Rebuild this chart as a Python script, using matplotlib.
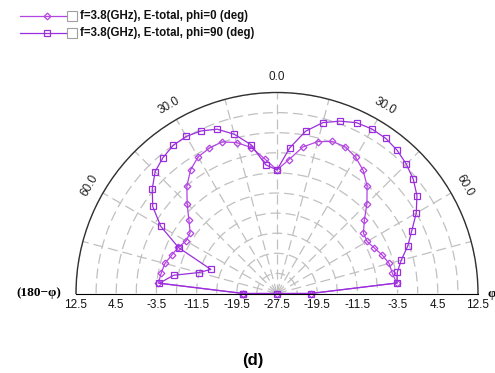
import numpy as np
import matplotlib
matplotlib.use('Agg')
import matplotlib.pyplot as plt
from matplotlib.lines import Line2D
from matplotlib.patches import Rectangle
from matplotlib.transforms import offset_copy

# theta cut, -90..90 deg in 5 deg steps
theta_deg = np.arange(-90, 91, 5)

# E-total (dB) at f=3.8 GHz, phi=0 cut
e_phi0 = [-20.8, -3.8, -4.1, -4.4, -5.2, -5.8, -6.6, -6.4, -4.6, -2.2,
          0.4, 2.5, 3.9, 4.4, 4.6, 3.6, 2.0, -0.7, -2.9, -0.8,
          2.1, 3.8, 4.7, 4.7, 3.8, 2.4, 0.4, -2.2, -4.8, -6.5,
          -6.8, -6.1, -5.2, -4.4, -4.2, -3.6, -20.8]

# E-total (dB) at f=3.8 GHz, phi=90 cut
e_phi90 = [-20.8, -4.0, -6.6, -11.4, -13.5, -5.9, -0.8, 2.7, 4.9, 6.8,
           7.8, 8.5, 8.6, 8.2, 7.3, 5.3, 2.6, -1.8, -2.9, 1.6,
           5.3, 7.7, 9.0, 10.0, 10.3, 10.2, 9.7, 8.9, 7.9, 6.5,
           4.5, 2.1, 0.2, -1.9, -3.2, -3.5, -20.8]

series_labels = ['f=3.8(GHz), E-total, phi=0 (deg)',
                 'f=3.8(GHz), E-total, phi=90 (deg)']

r_min, r_max = -27.5, 12.5
r_ticks = [12.5, 4.5, -3.5, -11.5, -19.5]
angle_ticks = [-60, -30, 0, 30, 60]

c_phi0 = '#B444E4'
c_phi90 = '#9A2EDC'
W, H = 495, 373

fig = plt.figure(figsize=(W / 100, H / 100), dpi=100)
plt.rcParams['font.family'] = ['Liberation Sans', 'DejaVu Sans']

# half polar plot, 0 deg at top; the half disc sits centred in a square box
cx, cy, R = 277, 293.5, 201
ax = fig.add_axes([(cx - R) / W, (H - cy - R / 2) / H, 2 * R / W, 2 * R / H],
                  projection='polar')
ax.set_theta_zero_location('N')
ax.set_theta_direction(-1)
ax.set_thetamin(-90)
ax.set_thetamax(90)
ax.set_rlim(r_min, r_max)
ax.patch.set_alpha(0)

ax.set_rticks(np.arange(-23.5, 12.6, 4))
ax.set_yticklabels([])
ax.set_xticks(np.deg2rad(np.arange(-90, 91, 15)))
ax.set_xticklabels([])
ax.grid(True, color='#c0c0c0', lw=0.9, ls=(0, (8, 4)))
ax.tick_params(length=0)
for s in ['start', 'end', 'inner']:
    ax.spines[s].set_visible(False)
ax.spines['polar'].set_color('#303030')
ax.spines['polar'].set_linewidth(1.0)

th = np.deg2rad(theta_deg)
# both cuts close through the centre of the plot
for vals, col, mk, ms in [(e_phi0, c_phi0, 'D', 3.4), (e_phi90, c_phi90, 's', 3.8)]:
    t = np.concatenate([th, [np.pi / 2, -np.pi / 2]])
    r = np.concatenate([vals, [r_min, vals[0]]])
    ax.plot(t, r, color=col, lw=0.9, marker=mk, ms=ms, mfc='none', mew=0.9,
            clip_on=False)

# angle labels along the outer arc
for a in angle_ticks:
    ax.text(np.deg2rad(a), 15.6, '%.1f' % abs(a), rotation=-a, rotation_mode='anchor',
            ha='center', va='center', fontsize=8.5, color='#202020')

# level labels under the baseline
below = offset_copy(ax.transData, fig=fig, x=0, y=-12, units='dots')
for v in r_ticks:
    for side in (-90, 90):
        ax.text(np.deg2rad(side), v, '%.1f' % v, transform=below, ha='center',
                va='center', fontsize=8.5, color='#101010')
ax.text(0, r_min, '%.1f' % r_min, transform=below, ha='center', va='center',
        fontsize=8.5, color='#101010')

fig.text(39 / W, 1 - 293 / H, '(180\u2212\u03c6)', ha='center', va='center',
         fontsize=9.5, fontweight='bold', family=['Liberation Serif', 'DejaVu Serif'])
fig.text(487 / W, 1 - 294 / H, '\u03c6', ha='left', va='center',
         fontsize=9.5, fontweight='bold', family=['Liberation Serif', 'DejaVu Serif'])

# legend rows
for i, (lab, col, mk, ms) in enumerate([(series_labels[0], c_phi0, 'D', 3.4),
                                        (series_labels[1], c_phi90, 's', 3.8)]):
    y = 1 - (15.5 + 17.2 * i) / H
    fig.add_artist(Line2D([20 / W, 66 / W], [y, y], color=col, lw=0.9,
                          transform=fig.transFigure))
    fig.add_artist(Line2D([47 / W], [y], color=col, marker=mk, ms=ms, mfc='none',
                          mew=0.9, transform=fig.transFigure))
    fig.add_artist(Rectangle((67 / W, y - 5 / H), 9.5 / W, 9.5 / H, fc='white',
                             ec='#a0a0a0', lw=0.8, transform=fig.transFigure))
    fig.text(80 / W, y, lab, ha='left', va='center', fontsize=8.3, fontweight='bold',
             color='#101010')

fig.text(253 / W, 1 - 360 / H, '(d)', ha='center', va='center', fontsize=12,
         fontweight='bold')

fig.savefig('out.png', dpi=100)
